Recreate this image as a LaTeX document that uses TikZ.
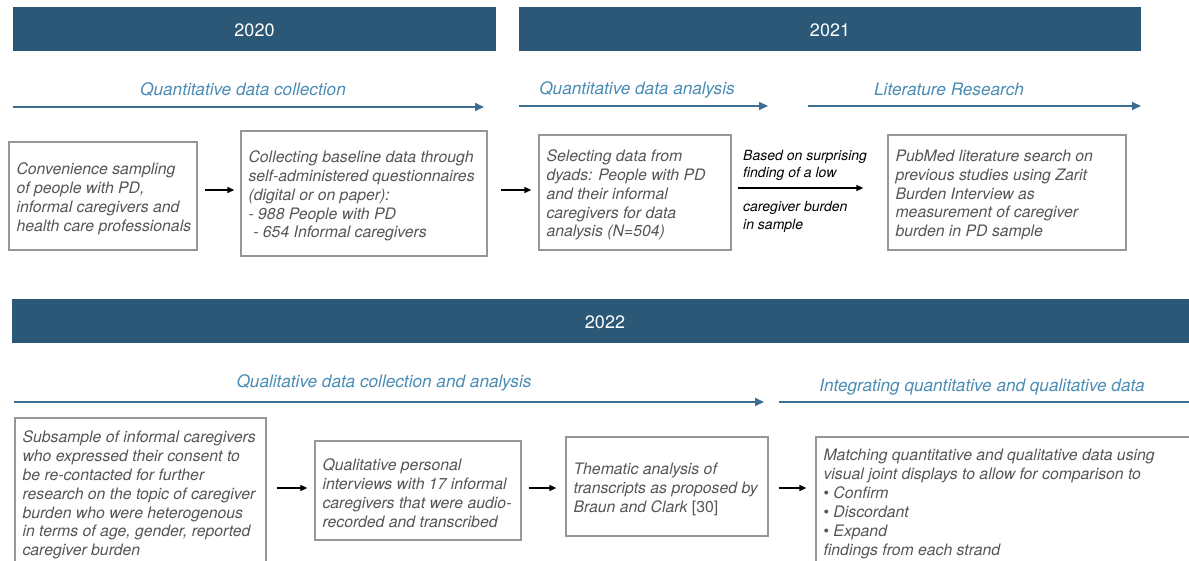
\documentclass[tikz,border=0pt]{standalone}
\usepackage{fontspec}
\setmainfont{TeX Gyre Heros}
\usetikzlibrary{arrows.meta}
\definecolor{barblue}{RGB}{43,88,118}
\definecolor{lineblue}{RGB}{60,110,145}
\definecolor{lblblue}{RGB}{74,140,180}
\definecolor{boxgray}{RGB}{150,150,150}
\definecolor{txtgray}{RGB}{85,85,85}
\begin{document}
\begin{tikzpicture}[x=1pt,y=-1pt,
 bar/.style={fill=barblue, draw=none, text=white, font=\fontsize{18}{21}\selectfont, inner sep=0pt},
 bartext/.style={text=white, font=\fontsize{18}{21}\selectfont, inner sep=0pt, yshift=-1.5pt},
 box/.style={draw=boxgray, line width=1.3pt, inner sep=0pt},
 boxtext/.style={anchor=west, align=left, inner sep=0pt, text=txtgray, yshift=-2.5pt, font=\fontsize{15.8}{18.9}\selectfont\itshape},
 phase/.style={text=lblblue, font=\fontsize{17.2}{20}\selectfont\itshape, inner sep=0pt, yshift=-1.5pt},
 tl/.style={draw=lineblue, line width=1.8pt, -{Triangle[length=9pt,width=8pt]}},
 tlplain/.style={draw=lineblue, line width=1.8pt},
 conn/.style={draw=black, line width=1.3pt, -{Triangle[length=7pt,width=6pt]}},
 lbl/.style={anchor=west, align=left, inner sep=0pt, yshift=-2pt, font=\fontsize{14}{17.5}\selectfont\itshape}]
\useasboundingbox (0,0) rectangle (1189,561);
\clip (0,0) rectangle (1189,561);

% year bars
\node[bar, minimum width=483pt, minimum height=44pt] (y20) at (254.5,29) {};
\node[bar, minimum width=622pt, minimum height=44pt] (y21) at (830,29) {};
\node[bar, minimum width=1186pt, minimum height=44pt] (y22) at (605,321) {};
\node[bartext] (y20t) at (y20.center) {2020};
\node[bartext] (y21t) at (y21.center) {2021};
\node[bartext] (y22t) at (y22.center) {2022};

% phase labels
\node[phase] (p1) at (243,88) {Quantitative data collection};
\node[phase] (p2) at (637,88) {Quantitative data analysis};
\node[phase] (p3) at (949,88) {Literature Research};
\node[phase] (p4) at (384,381) {Qualitative data collection and analysis};
\node[phase] (p5) at (982,386) {Integrating quantitative and qualitative data};

% timeline arrows
\coordinate (t1a) at (13,107);  \coordinate (t1b) at (484,107);
\coordinate (t2a) at (519,106); \coordinate (t2b) at (768,106);
\coordinate (t3a) at (808,106); \coordinate (t3b) at (1141,106);
\coordinate (t4a) at (14,402);  \coordinate (t4b) at (764,402);
\coordinate (t5a) at (779,402); \coordinate (t5b) at (1195,402);
\draw[tl] (t1a) -- (t1b);
\draw[tl] (t2a) -- (t2b);
\draw[tl] (t3a) -- (t3b);
\draw[tl] (t4a) -- (t4b);
\draw[tlplain] (t5a) -- (t5b);

% boxes row 1
\node[box, minimum width=188pt, minimum height=108pt] (b1) at (103,196) {};
\node[box, minimum width=246pt, minimum height=125pt] (b2) at (364,193.5) {};
\node[box, minimum width=192pt, minimum height=115pt] (b3) at (635,192.5) {};
\node[box, minimum width=238pt, minimum height=115pt] (b4) at (1007,192.5) {};
% boxes row 2
\node[box, minimum width=251pt, minimum height=149pt] (b5) at (140.5,492.5) {};
\node[box, minimum width=206pt, minimum height=99pt] (b6) at (418,490.5) {};
\node[box, minimum width=202pt, minimum height=99pt] (b7) at (667,486.5) {};
\node[box, minimum width=384pt, minimum height=129pt] (b8) at (1008,501.5) {};

% box texts
\node[boxtext] (x1) at ([xshift=8pt]b1.west) {Convenience sampling\\of people with PD,\\informal caregivers and\\health care professionals};
\node[boxtext] (x2) at ([xshift=8pt]b2.west) {Collecting baseline data through\\self-administered questionnaires\\(digital or on paper):\\- 988 People with PD\\\hspace{0.3em}- 654 Informal caregivers};
\node[boxtext] (x3) at ([xshift=8pt]b3.west) {Selecting data from\\dyads: People with PD\\and their informal\\caregivers for data\\analysis (N=504)};
\node[boxtext] (x4) at ([xshift=8pt]b4.west) {PubMed literature search on\\previous studies using Zarit\\Burden Interview as\\measurement of caregiver\\burden in PD sample};
\node[boxtext] (x5) at ([xshift=8pt]b5.west) {Subsample of informal caregivers\\who expressed their consent to\\be re-contacted for further\\research on the topic of caregiver\\burden who were heterogenous\\in terms of age, gender, reported\\caregiver burden};
\node[boxtext] (x6) at ([xshift=8pt]b6.west) {Qualitative personal\\interviews with 17 informal\\caregivers that were audio-\\recorded and transcribed};
\node[boxtext] (x7) at ([xshift=8pt]b7.west) {Thematic analysis of\\transcripts as proposed by\\Braun and Clark {\upshape[30]}};
\node[boxtext] (x8) at ([xshift=8pt]b8.west) {Matching quantitative and qualitative data using\\visual joint displays to allow for comparison to\\{\upshape\textbullet} Confirm\\{\upshape\textbullet} Discordant\\{\upshape\textbullet} Expand\\findings from each strand};

% connectors
\coordinate (r1) at (0,190);
\coordinate (r1b) at (0,188);
\coordinate (r2) at (0,488);
\draw[conn, shorten <=7pt, shorten >=6pt] (b1.east |- r1) -- (b2.west |- r1);
\draw[conn, shorten <=13pt, shorten >=7pt] (b2.east |- r1) -- (b3.west |- r1);
\draw[conn, shorten <=6pt, shorten >=24pt] (b3.east |- r1b) -- (b4.west |- r1b);
\draw[conn, shorten <=10pt, shorten >=7pt] (b5.east |- r2) -- (b6.west |- r2);
\draw[conn, shorten <=7pt, shorten >=9pt] (b6.east |- r2) -- (b7.west |- r2);
\draw[conn, shorten <=10pt, shorten >=9pt] (b7.east |- r2) -- (b8.west |- r2);

% arrow labels
\node[lbl] (l1) at (743,163.5) {Based on surprising\\finding of a low};
\node[lbl] (l2) at (743,215) {caregiver burden\\in sample};
\end{tikzpicture}
\end{document}
